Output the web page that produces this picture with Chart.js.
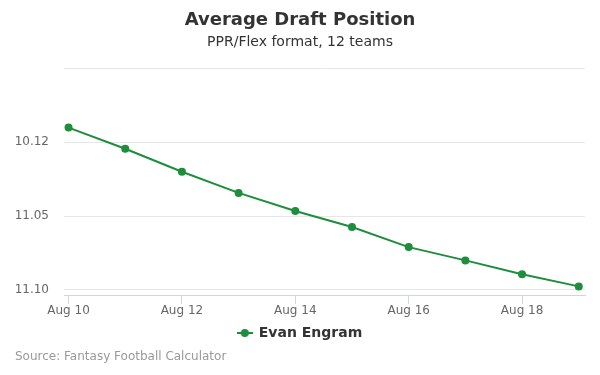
<!DOCTYPE html>
<html>
<head>
<meta charset="utf-8">
<script src="https://cdn.jsdelivr.net/npm/chart.js@4/dist/chart.umd.min.js"></script>
<style>
  body { margin: 0; background: #fff; }
  #wrap { position: relative; width: 600px; height: 375px; }
  #fuente { position: absolute; left: 15px; top: 349px; font: 12px "DejaVu Sans", sans-serif; color: #999; }
</style>
</head>
<body>
<div id="wrap">
  <canvas id="grafico-adp"></canvas>
  <div id="fuente">Source: Fantasy Football Calculator</div>
</div>
<script>
// Datos del gráfico
const fechas = ['Aug 10', 'Aug 11', 'Aug 12', 'Aug 13', 'Aug 14', 'Aug 15', 'Aug 16', 'Aug 17', 'Aug 18', 'Aug 19'];
const adp = [119.01, 120.44, 122.0, 123.43, 124.65, 125.74, 127.1, 128.0, 128.94, 129.76];
const ticksY = [115, 120, 125, 130];
const equipos = 12;

const verde = '#1d8e3b';

// Formato ronda.pick
function formatearPick(valor) {
  const ronda = Math.ceil(valor / equipos);
  const pick = valor - (ronda - 1) * equipos;
  return ronda + '.' + String(pick).padStart(2, '0');
}

// Símbolo de la leyenda: línea con punto
const simbolo = document.createElement('canvas');
simbolo.width = 16;
simbolo.height = 10;
const sctx = simbolo.getContext('2d');
sctx.strokeStyle = verde;
sctx.lineWidth = 2;
sctx.beginPath();
sctx.moveTo(0, 5);
sctx.lineTo(16, 5);
sctx.stroke();
sctx.fillStyle = verde;
sctx.beginPath();
sctx.arc(8, 5, 4, 0, Math.PI * 2);
sctx.fill();

const puntos = adp.map((v, i) => ({ x: i, y: v }));

new Chart(document.getElementById('grafico-adp'), {
  type: 'line',
  data: {
    datasets: [{
      label: 'Evan Engram',
      data: puntos,
      borderColor: verde,
      backgroundColor: verde,
      borderWidth: 2,
      pointRadius: 4,
      pointBorderWidth: 0,
      pointHoverRadius: 4,
      pointStyle: 'circle',
      tension: 0
    }]
  },
  options: {
    responsive: true,
    maintainAspectRatio: false,
    animation: false,
    layout: { padding: { left: 0, right: 0, bottom: 25 } },
    font: { family: '"DejaVu Sans", sans-serif' },
    plugins: {
      title: {
        display: true,
        text: 'Average Draft Position',
        color: '#333',
        font: { size: 18, weight: 'bold', family: '"DejaVu Sans", sans-serif' },
        padding: { top: 9.5, bottom: 2.5 }
      },
      subtitle: {
        display: true,
        text: 'PPR/Flex format, 12 teams',
        color: '#333',
        font: { size: 14, family: '"DejaVu Sans", sans-serif' },
        padding: { top: 0, bottom: 18 }
      },
      legend: {
        position: 'bottom',
        labels: {
          usePointStyle: true,
          pointStyle: simbolo,
          color: '#333',
          font: { size: 14, weight: 'bold', family: '"DejaVu Sans", sans-serif' },
          padding: 7.5
        }
      },
      tooltip: { enabled: false }
    },
    scales: {
      x: {
        type: 'linear',
        min: -0.08,
        max: 9.11,
        afterBuildTicks: scale => {
          scale.ticks = [0, 2, 4, 6, 8].map(v => ({ value: v }));
        },
        ticks: {
          color: '#666',
          font: { size: 12, family: '"DejaVu Sans", sans-serif' },
          padding: 0,
          maxRotation: 0,
          callback: v => fechas[v]
        },
        grid: {
          drawOnChartArea: false,
          color: '#ccd6eb',
          tickLength: 9
        },
        border: { color: '#ccd6eb' }
      },
      y: {
        reverse: true,
        min: 115,
        max: 130.35,
        afterBuildTicks: scale => {
          scale.ticks = ticksY.map(v => ({ value: v }));
        },
        afterFit: scale => { scale.width = 64; },
        ticks: {
          color: '#666',
          font: { size: 12, family: '"DejaVu Sans", sans-serif' },
          padding: 15,
          callback: v => (v === ticksY[0] ? '' : formatearPick(v))
        },
        grid: {
          color: '#e6e6e6',
          drawTicks: false
        },
        border: { display: false }
      },
      // margen derecho del área del gráfico, sin marcas
      margen: {
        position: 'right',
        afterFit: scale => { scale.width = 15; },
        ticks: { display: false },
        grid: { display: false },
        border: { display: false }
      }
    }
  }
});
</script>
</body>
</html>
